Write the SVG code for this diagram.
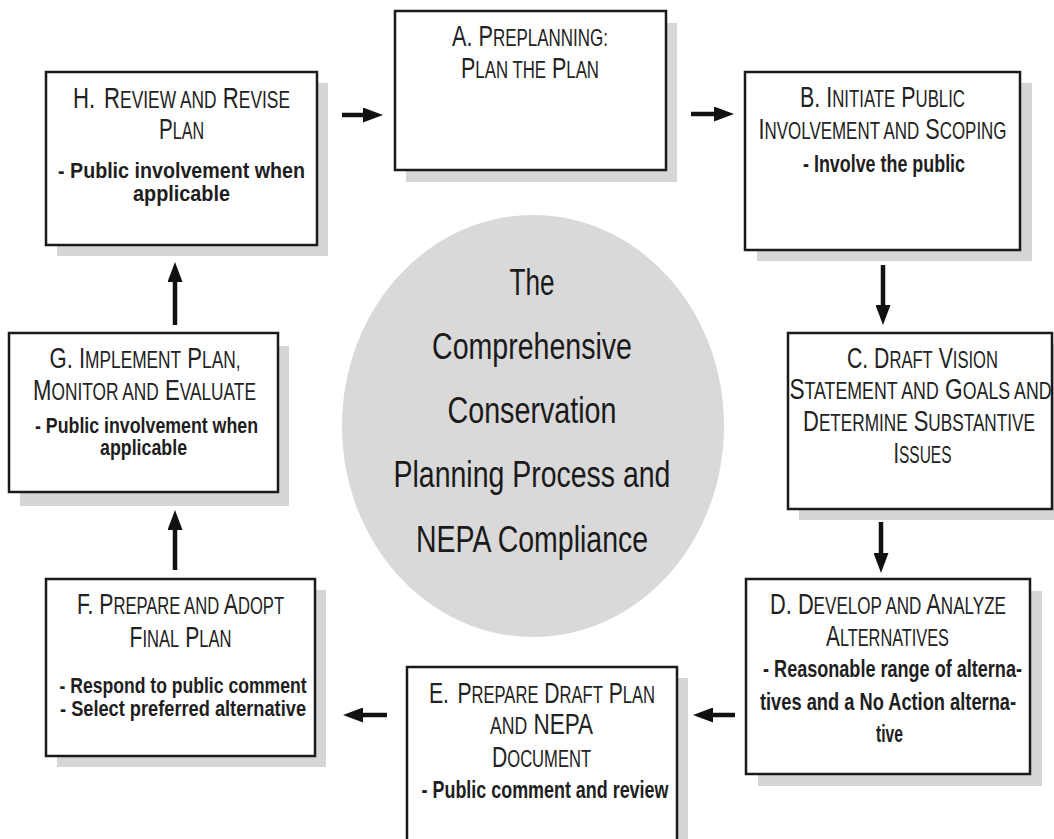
<svg xmlns="http://www.w3.org/2000/svg" width="1054" height="839" viewBox="0 0 1054 839">
<style>
.box{fill:#fff;stroke:#1a1a1a;stroke-width:2.5}
.sh{fill:#d6d6d6}
.t{font-family:"Liberation Sans",Arial,sans-serif;font-size:30px;fill:#222;text-anchor:middle}
.s{font-size:23.5px}
.b{font-family:"Liberation Sans",Arial,sans-serif;font-size:23px;font-weight:bold;fill:#1e1e1e;text-anchor:middle}
.b2{font-size:22px}
.c{font-family:"Liberation Sans",Arial,sans-serif;font-size:37.5px;fill:#1a1a1a;text-anchor:middle}
.arr{stroke:#111;stroke-width:4.5;fill:none;marker-end:url(#ah)}
</style>
<defs>
<marker id="ah" viewBox="0 0 20 15" refX="2" refY="7.5" markerWidth="20" markerHeight="15" markerUnits="userSpaceOnUse" orient="auto">
<path d="M0,0 L20,7.5 L0,15 z" fill="#111"/>
</marker>
</defs>
<rect width="1054" height="839" fill="#fff"/>

<g id="center">
<ellipse cx="533" cy="426" rx="191" ry="211" fill="#d9d9d9"/>
<text class="c" transform="translate(532,295) scale(0.697,1)" textLength="64.6" lengthAdjust="spacingAndGlyphs">The</text>
<text class="c" transform="translate(532,359) scale(0.82,1)" textLength="243.8" lengthAdjust="spacingAndGlyphs">Comprehensive</text>
<text class="c" transform="translate(532,423) scale(0.765,1)" textLength="220.9" lengthAdjust="spacingAndGlyphs">Conservation</text>
<text class="c" transform="translate(532,487) scale(0.759,1)" textLength="364.8" lengthAdjust="spacingAndGlyphs">Planning Process and</text>
<text class="c" transform="translate(532,552) scale(0.713,1)" textLength="325.5" lengthAdjust="spacingAndGlyphs">NEPA Compliance</text>
</g>

<g id="nodeH">
<rect class="sh" x="57" y="83" width="271" height="173"/>
<rect class="box" x="46" y="72" width="271" height="173"/>
<text class="t" transform="translate(181.5,108) scale(0.736,1)" textLength="294.8" lengthAdjust="spacingAndGlyphs">H.<tspan dx="12">R</tspan><tspan class="s">EVIEW AND</tspan> R<tspan class="s">EVISE</tspan></text>
<text class="t" transform="translate(181.5,139) scale(0.685,1)" textLength="65.7" lengthAdjust="spacingAndGlyphs">P<tspan class="s">LAN</tspan></text>
<text class="b b2" transform="translate(181.5,178) scale(0.894,1)" textLength="276.3" lengthAdjust="spacingAndGlyphs">- Public involvement when</text>
<text class="b b2" transform="translate(181.5,201) scale(0.901,1)" textLength="107.6" lengthAdjust="spacingAndGlyphs">applicable</text>
</g>

<g id="nodeA">
<rect class="sh" x="406" y="23" width="271" height="159"/>
<rect class="box" x="395" y="11" width="271" height="159"/>
<text class="t" transform="translate(530,46) scale(0.722,1)" textLength="216" lengthAdjust="spacingAndGlyphs">A. P<tspan class="s">REPLANNING:</tspan></text>
<text class="t" transform="translate(530,78) scale(0.714,1)" textLength="193.3" lengthAdjust="spacingAndGlyphs">P<tspan class="s">LAN THE</tspan> P<tspan class="s">LAN</tspan></text>
</g>

<g id="nodeB">
<rect class="sh" x="757" y="83" width="275" height="178"/>
<rect class="box" x="745" y="72" width="275" height="178"/>
<text class="t" transform="translate(882.5,107) scale(0.709,1)" textLength="232.7" lengthAdjust="spacingAndGlyphs">B. I<tspan class="s">NITIATE</tspan> P<tspan class="s">UBLIC</tspan></text>
<text class="t" transform="translate(882.5,139) scale(0.714,1)" textLength="347.4" lengthAdjust="spacingAndGlyphs">I<tspan class="s">NVOLVEMENT AND</tspan> S<tspan class="s">COPING</tspan></text>
<text class="b" transform="translate(884,172) scale(0.778,1)" textLength="208.3" lengthAdjust="spacingAndGlyphs">- Involve the public</text>
</g>

<g id="nodeC">
<rect class="sh" x="799" y="344" width="264" height="176"/>
<rect class="box" x="788" y="333" width="264" height="176"/>
<text class="t" transform="translate(922.5,368) scale(0.706,1)" textLength="213.8" lengthAdjust="spacingAndGlyphs">C. D<tspan class="s">RAFT</tspan> V<tspan class="s">ISION</tspan></text>
<text class="t" transform="translate(920.5,399) scale(0.742,1)" textLength="353.3" lengthAdjust="spacingAndGlyphs">S<tspan class="s">TATEMENT AND</tspan> G<tspan class="s">OALS AND</tspan></text>
<text class="t" transform="translate(919,431) scale(0.727,1)" textLength="319" lengthAdjust="spacingAndGlyphs">D<tspan class="s">ETERMINE</tspan> S<tspan class="s">UBSTANTIVE</tspan></text>
<text class="t" transform="translate(922.5,463) scale(0.659,1)" textLength="88" lengthAdjust="spacingAndGlyphs">I<tspan class="s">SSUES</tspan></text>
</g>

<g id="nodeD">
<rect class="sh" x="758" y="591" width="284" height="195"/>
<rect class="box" x="746" y="579" width="284" height="195"/>
<text class="t" transform="translate(888,614) scale(0.715,1)" textLength="330" lengthAdjust="spacingAndGlyphs">D. D<tspan class="s">EVELOP AND</tspan> A<tspan class="s">NALYZE</tspan></text>
<text class="t" transform="translate(887.5,646) scale(0.681,1)" textLength="180.6" lengthAdjust="spacingAndGlyphs">A<tspan class="s">LTERNATIVES</tspan></text>
<text class="b" transform="translate(892.5,677) scale(0.785,1)" textLength="329.8" lengthAdjust="spacingAndGlyphs">- Reasonable range of alterna-</text>
<text class="b" transform="translate(888,710) scale(0.792,1)" textLength="323.4" lengthAdjust="spacingAndGlyphs">tives and a No Action alterna-</text>
<text class="b" transform="translate(889.5,742) scale(0.68,1)" textLength="39.6" lengthAdjust="spacingAndGlyphs">tive</text>
</g>

<g id="nodeE">
<rect class="sh" x="418" y="678" width="270" height="180"/>
<rect class="box" x="407" y="667" width="270" height="190"/>
<text class="t" transform="translate(542,703) scale(0.702,1)" textLength="322" lengthAdjust="spacingAndGlyphs">E.<tspan dx="12">P</tspan><tspan class="s">REPARE</tspan> D<tspan class="s">RAFT</tspan> P<tspan class="s">LAN</tspan></text>
<text class="t" transform="translate(541.5,734) scale(0.738,1)" textLength="139.6" lengthAdjust="spacingAndGlyphs"><tspan class="s">AND</tspan> NEPA</text>
<text class="t" transform="translate(541.5,767) scale(0.705,1)" textLength="140.5" lengthAdjust="spacingAndGlyphs">D<tspan class="s">OCUMENT</tspan></text>
<text class="b" transform="translate(545,798) scale(0.779,1)" textLength="317" lengthAdjust="spacingAndGlyphs">- Public comment and review</text>
</g>

<g id="nodeF">
<rect class="sh" x="57" y="590" width="269" height="177"/>
<rect class="box" x="46" y="579" width="269" height="177"/>
<text class="t" transform="translate(180.5,614) scale(0.688,1)" textLength="301" lengthAdjust="spacingAndGlyphs">F. P<tspan class="s">REPARE AND</tspan> A<tspan class="s">DOPT</tspan></text>
<text class="t" transform="translate(180.5,647) scale(0.705,1)" textLength="144.6" lengthAdjust="spacingAndGlyphs">F<tspan class="s">INAL</tspan> P<tspan class="s">LAN</tspan></text>
<text class="b b2" transform="translate(183,693) scale(0.799,1)" textLength="309.3" lengthAdjust="spacingAndGlyphs">- Respond to public comment</text>
<text class="b b2" transform="translate(183,716) scale(0.828,1)" textLength="297.1" lengthAdjust="spacingAndGlyphs">- Select preferred alternative</text>
</g>

<g id="nodeG">
<rect class="sh" x="20" y="346" width="269" height="160"/>
<rect class="box" x="9" y="333" width="269" height="159"/>
<text class="t" transform="translate(145,368) scale(0.736,1)" textLength="259.5" lengthAdjust="spacingAndGlyphs">G. I<tspan class="s">MPLEMENT</tspan> P<tspan class="s">LAN,</tspan></text>
<text class="t" transform="translate(144.5,400) scale(0.724,1)" textLength="307.9" lengthAdjust="spacingAndGlyphs">M<tspan class="s">ONITOR AND</tspan> E<tspan class="s">VALUATE</tspan></text>
<text class="b b2" transform="translate(146.5,433) scale(0.807,1)" textLength="276.3" lengthAdjust="spacingAndGlyphs">- Public involvement when</text>
<text class="b b2" transform="translate(143.5,455) scale(0.809,1)" textLength="107.6" lengthAdjust="spacingAndGlyphs">applicable</text>
</g>

<g id="connectors">
<line class="arr" x1="342" y1="115" x2="365" y2="115"/>
<line class="arr" x1="691" y1="114" x2="716" y2="114"/>
<line class="arr" x1="883" y1="265" x2="883" y2="307"/>
<line class="arr" x1="881" y1="522" x2="881" y2="555"/>
<line class="arr" x1="735" y1="715" x2="711" y2="715"/>
<line class="arr" x1="387" y1="715" x2="361" y2="715"/>
<line class="arr" x1="175" y1="570" x2="175" y2="528"/>
<line class="arr" x1="175" y1="325" x2="175" y2="280"/>
</g>
</svg>
